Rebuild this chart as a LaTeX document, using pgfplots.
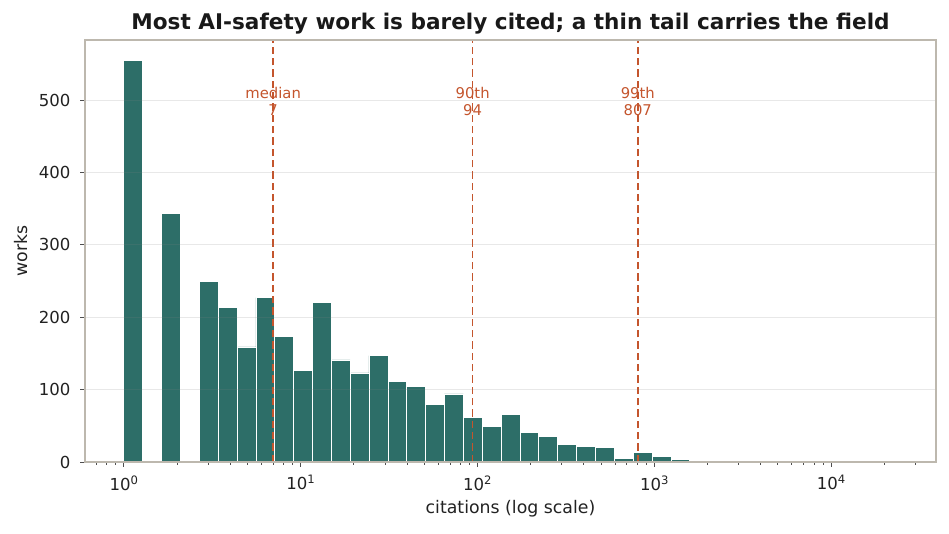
\documentclass[border=0pt]{standalone}
\usepackage{pgfplots}
\pgfplotsset{compat=1.18}
\usepackage{fontspec}
\setmainfont{DejaVu Sans}
\definecolor{barteal}{HTML}{2D6E68}
\definecolor{refline}{HTML}{C4552D}
\definecolor{spine}{HTML}{BDB8AE}
\definecolor{txt}{HTML}{222222}
\newcommand{\dec}[1]{10\raisebox{4.5pt}{\fontsize{8.7}{9}\selectfont #1}}

\begin{document}
\begin{tikzpicture}
\useasboundingbox (-63.75pt,-53.25pt) rectangle (648pt,346.5pt);
\begin{axis}[
  at={(0,0)}, anchor=south west,
  scale only axis, width=638.25pt, height=316.5pt,
  xmode=log, xmin=0.604, xmax=39200, ymin=0, ymax=583,
  axis on top,
  axis line style={spine, line width=0.8pt},
  tick align=outside, xtick pos=bottom, ytick pos=left,
  major tick length=3.6pt, minor tick length=2.1pt,
  tick style={color=txt!80, line width=0.6pt},
  xtick={1,10,100,1000,10000},
  xticklabels={\dec{0},\dec{1},\dec{2},\dec{3},\dec{4}},
  minor xtick={0.7,0.8,0.9,2,3,4,5,6,7,8,9,20,30,40,50,60,70,80,90,200,300,400,500,600,700,800,900,2000,3000,4000,5000,6000,7000,8000,9000,20000,30000},
  ytick={0,100,...,500},
  ymajorgrids, grid style={color=gray, opacity=0.18, line width=0.6pt},
  tick label style={font=\fontsize{12.4}{14}\selectfont, text=txt},
  xticklabel style={yshift=-3pt},
  yticklabel style={xshift=-3.75pt},
  /pgf/number format/assume math mode=true,
  xlabel={citations (log scale)}, ylabel={works},
  label style={font=\fontsize{13}{15}\selectfont, text=txt},
  xlabel style={at={(axis description cs:0.5,-0.1209)}, anchor=base},
  ylabel style={at={(axis description cs:-0.075,0.5)}, anchor=center},
  title={Most AI-safety work is barely cited; a thin tail carries the field},
  title style={font=\bfseries\fontsize{16.2}{19}\selectfont, text=black!90,
    at={(axis description cs:0.5,1)}, anchor=base, yshift=2.25pt},
]
% histogram: left bin edges (log-spaced) and counts
\addplot[ybar interval, fill=barteal, draw=white, line width=0.5pt] coordinates {
  (1,555) (1.2786,0) (1.6349,343) (2.0904,0) (2.6728,249) (3.4175,214)
  (4.3696,159) (5.5870,227) (7.1435,173) (9.1340,126) (11.668,221)
  (14.912,141) (19.066,123) (24.376,147) (31.167,111) (39.829,104)
  (50.93,80) (65.12,94) (83.26,62) (106.40,49) (136.05,66) (173.94,41)
  (222.4,35) (284.3,24) (363.5,22) (464.5,20) (593.9,5) (759.3,13)
  (970.6,8) (1241.1,4) (1586.5,2) (2028.5,0) (2593,0) (3315,0) (4238,0)
  (5418,0) (6927,0) (8856,0) (11322,0) (14474,0) (18505,1) (23650,0)
};
% percentile markers
\addplot[refline, line width=1.15pt, dash pattern=on 5.5pt off 3pt] coordinates {(7,0) (7,583)};
\addplot[refline, line width=1.15pt, dash pattern=on 5.5pt off 3pt] coordinates {(94,0) (94,583)};
\addplot[refline, line width=1.15pt, dash pattern=on 5.5pt off 3pt] coordinates {(807,0) (807,583)};
\node[text=refline, anchor=base, font=\fontsize{11.1}{13}\selectfont] at (axis cs:7,502.8) {median};
\node[text=refline, anchor=base, font=\fontsize{11.1}{13}\selectfont] at (axis cs:7,478.3) {7};
\node[text=refline, anchor=base, font=\fontsize{11.1}{13}\selectfont] at (axis cs:94,502.8) {90th};
\node[text=refline, anchor=base, font=\fontsize{11.1}{13}\selectfont] at (axis cs:94,478.3) {94};
\node[text=refline, anchor=base, font=\fontsize{11.1}{13}\selectfont] at (axis cs:807,502.8) {99th};
\node[text=refline, anchor=base, font=\fontsize{11.1}{13}\selectfont] at (axis cs:807,478.3) {807};
\end{axis}
\end{tikzpicture}
\end{document}
